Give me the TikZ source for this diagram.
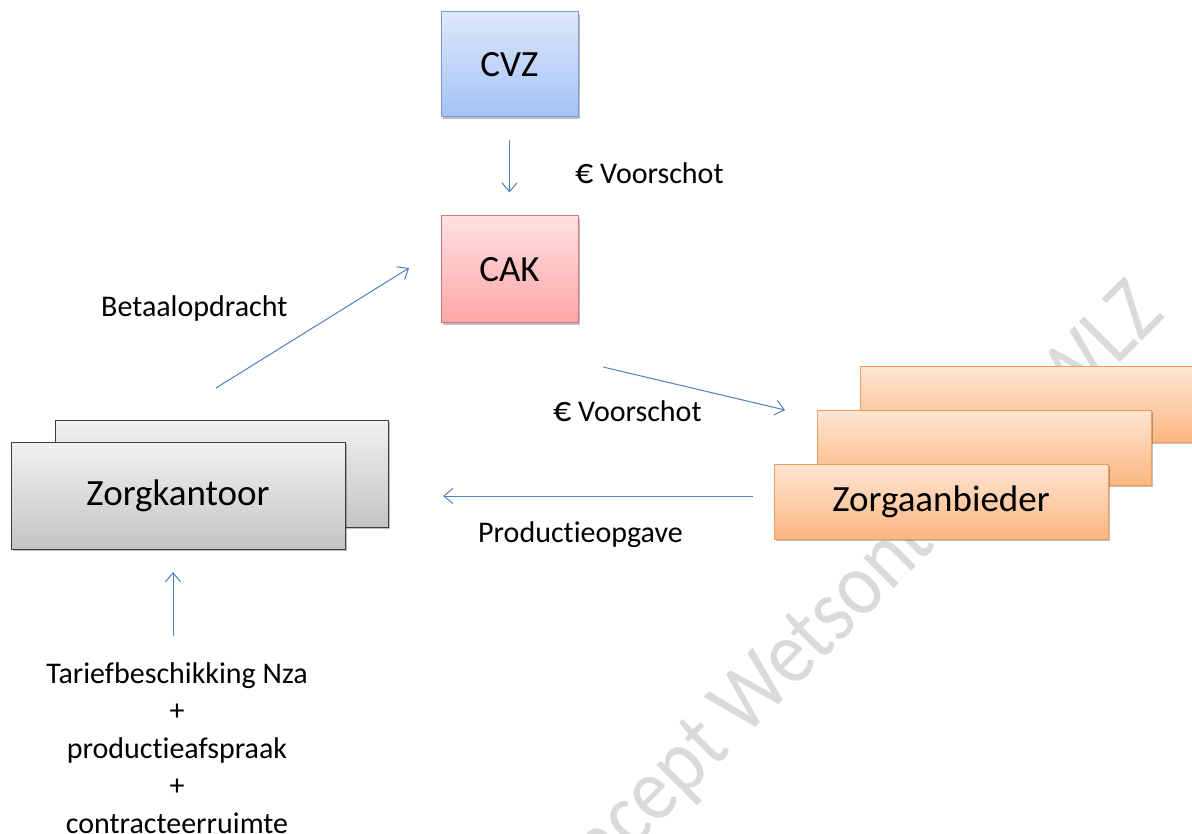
\documentclass[tikz,border=0pt]{standalone}
\usepackage{fontspec}
\setmainfont{Carlito}[Ligatures=NoCommon]
\newfontfamily\wmfont{Carlito}[FakeStretch=0.88]
\usetikzlibrary{arrows.meta,shadows}
\definecolor{arrowblue}{RGB}{79,129,189}
\definecolor{bluetop}{RGB}{221,232,251}
\definecolor{bluebot}{RGB}{164,194,244}
\definecolor{blueline}{RGB}{120,157,212}
\definecolor{pinktop}{RGB}{255,224,224}
\definecolor{pinkbot}{RGB}{255,166,166}
\definecolor{pinkline}{RGB}{214,120,120}
\definecolor{graytop}{RGB}{241,241,241}
\definecolor{graybot}{RGB}{196,196,196}
\definecolor{grayline}{RGB}{60,60,60}
\definecolor{orangetop}{RGB}{254,230,212}
\definecolor{orangebot}{RGB}{251,182,128}
\definecolor{orangeline}{RGB}{246,157,90}
\definecolor{watermark}{RGB}{218,218,218}
\tikzset{
  box/.style={draw, line width=1pt, inner sep=0pt, align=center,
    font=\fontsize{37}{44}\selectfont,
    drop shadow={shadow xshift=1.5pt, shadow yshift=-2pt, opacity=0.25, fill=black}},
  bluebox/.style={box, draw=blueline, top color=bluetop, bottom color=bluebot},
  pinkbox/.style={box, draw=pinkline, top color=pinktop, bottom color=pinkbot},
  graybox/.style={box, draw=grayline, top color=graytop, bottom color=graybot},
  orangebox/.style={box, draw=orangeline, top color=orangetop, bottom color=orangebot},
  flow/.style={draw=arrowblue, line width=1pt, -{Straight Barb[length=9pt,width=15pt]}},
  lbl/.style={inner sep=0pt, font=\fontsize{30}{37.5}\selectfont},
}
\newcommand{\eurosign}{{\fontsize{36}{36}\selectfont €}}
\begin{document}
\begin{tikzpicture}[x=1pt,y=-1pt]
\useasboundingbox[fill=white] (0,0) rectangle (1192,834);
% watermark
\node[anchor=base west, rotate=45, inner sep=0pt, text=watermark,
  font=\wmfont\fontsize{90}{90}\selectfont] (wm) at (543.4,939.6) {Concept Wetsontwerp WLZ};
% boxes
\node[bluebox, minimum width=137pt, minimum height=105pt] (cvz) at (509.5,64.5) {CVZ};
\node[pinkbox, minimum width=137pt, minimum height=107pt] (cak) at (509.5,269.5) {CAK};
\node[graybox, minimum width=333pt, minimum height=107pt] (zk2) at (221.5,473.5) {};
\node[graybox, minimum width=334pt, minimum height=107pt] (zk1) at (178,495.5) {Zorgkantoor};
\node[orangebox, minimum width=334pt, minimum height=75pt] (za3) at (1027,404.5) {};
\node[orangebox, minimum width=334pt, minimum height=75pt] (za2) at (984,447.5) {};
\node[orangebox, minimum width=334pt, minimum height=75pt] (za1) at (941,501.5) {Zorgaanbieder};
% connector end points
\coordinate (b1) at (216,388);
\coordinate (b2) at (409,268);
\coordinate (v1) at (603,367);
\coordinate (v2) at (785,410);
\coordinate (p1) at (753,496);
\coordinate (p2) at (443,496);
\coordinate (u0) at (173,636);
\coordinate (u2) at (173,572);
% connectors
\draw[flow, shorten <=23pt, shorten >=23pt] (cvz.south) -- (cak.north);
\draw[flow] (b1) -- (b2);
\draw[flow] (v1) -- (v2);
\draw[flow] (p1) -- (p2);
\draw[flow] (u0) -- (u2);
% labels
\node[lbl, anchor=base west] (l1) at (575,184) {\eurosign{} Voorschot};
\node[lbl, anchor=base west] (l2) at (553,421) {\eurosign{} Voorschot};
\node[lbl, anchor=base west] (l3) at (101,317) {Betaalopdracht};
\node[lbl, anchor=base west] (l4) at (478,542) {Productieopgave};
\node[lbl, anchor=north, align=center] (tar) at (177,662)
  {Tariefbeschikking Nza\\+\\productieafspraak\\+\\contracteerruimte};
\end{tikzpicture}
\end{document}
